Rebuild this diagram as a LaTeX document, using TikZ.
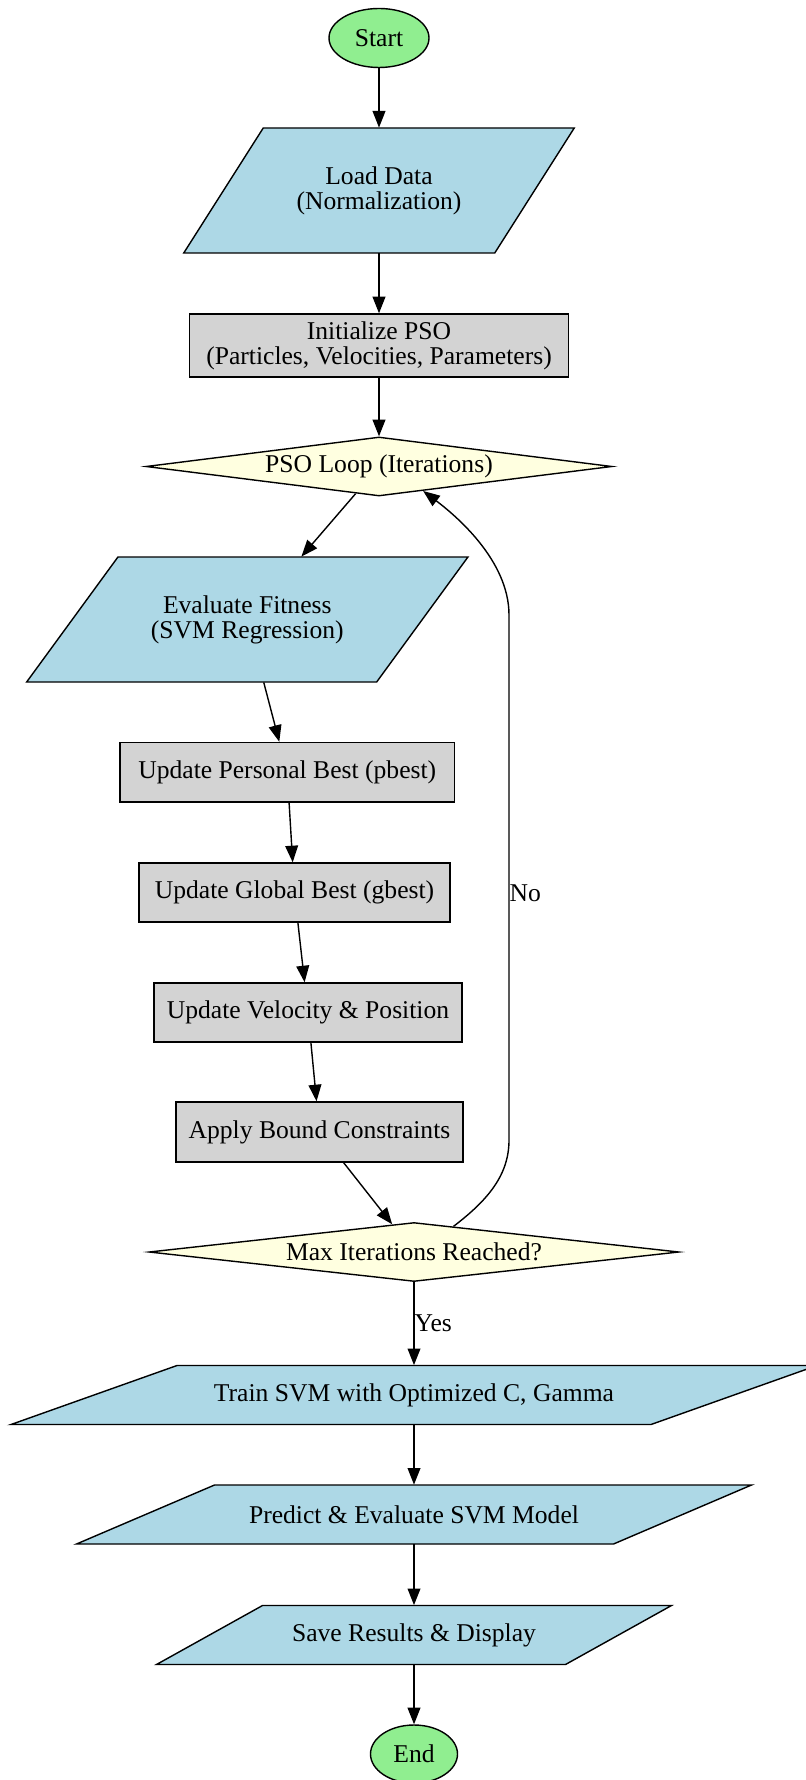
\documentclass[tikz,border=0pt]{standalone}
\usepackage{fontspec}
\setmainfont{Liberation Serif}
\usetikzlibrary{shapes.geometric,arrows.meta,calc}

\definecolor{termgreen}{HTML}{90EE90}
\definecolor{ioblue}{HTML}{ADD8E6}
\definecolor{procgray}{HTML}{D3D3D3}
\definecolor{decyellow}{HTML}{FFFFE0}

\tikzset{
  every node/.style={font=\fontsize{12.8}{12.5}\selectfont, inner sep=0pt, align=center},
  terminal/.style={ellipse, draw, fill=termgreen, line width=0.7pt},
  procbox/.style={rectangle, draw, fill=procgray, line width=0.7pt},
  decision/.style={diamond, draw, fill=decyellow, line width=0.7pt, aspect=8},
  iofill/.style={draw, fill=ioblue, line width=0.7pt},
  arr/.style={-{Triangle[length=8.3pt,width=6.4pt]}, line width=0.7pt},
  lbl/.style={anchor=west, inner sep=0pt},
}

% parallelogram: name, centre, width, height, slant, text (sizes in px)
\newcommand{\iobox}[6]{%
  \filldraw[iofill] ($(#2)+({-#3/2},{#4/2})$) -- ++({#3-#5},0) -- ++(#5,-#4)
    -- ++({-#3+#5},0) -- cycle;
  \node[minimum width=#3*0.5pt, minimum height=#4*0.5pt] (#1) at (#2) {#6};
}

\begin{document}
\begin{tikzpicture}[x=0.5pt,y=-0.5pt]
\useasboundingbox (0,0) rectangle (806,1780);
% nodes
\node[terminal, minimum width=50pt, minimum height=29.5pt] (start) at (379,38) {Start};
\iobox{load}{379,190.5}{390.5}{125}{79.5}{Load Data\\(Normalization)}
\node[procbox, minimum width=189.5pt, minimum height=31.5pt] (init) at (379,345.5) {Initialize PSO\\(Particles, Velocities, Parameters)};
\node[decision, minimum width=233pt, minimum height=29.5pt] (loop) at (379,466.5) {PSO Loop (Iterations)};
\iobox{eval}{247.3,619.5}{441.3}{125}{91.3}{Evaluate Fitness\\(SVM Regression)}
\node[procbox, minimum width=167.25pt, minimum height=29.75pt] (pbest) at (287.25,772.25) {Update Personal Best (pbest)};
\node[procbox, minimum width=155.5pt, minimum height=29.5pt] (gbest) at (294.5,892.5) {Update Global Best (gbest)};
\node[procbox, minimum width=154pt, minimum height=29.5pt] (vel) at (308,1012.5) {Update Velocity \& Position};
\node[procbox, minimum width=143.5pt, minimum height=30pt] (bound) at (319.5,1132) {Apply Bound Constraints};
\node[decision, minimum width=265pt, minimum height=29.5pt] (maxit) at (414,1252) {Max Iterations Reached?};
\iobox{train}{414,1395}{806}{59}{166}{Train SVM with Optimized C, Gamma}
\iobox{pred}{414,1514.5}{675}{59}{138}{Predict \& Evaluate SVM Model}
\iobox{save}{414,1635}{515}{59}{106}{Save Results \& Display}
\node[terminal, minimum width=43.5pt, minimum height=29pt] (end) at (414,1754) {End};

% main flow
\draw[arr] (start) -- (load);
\draw[arr] (load) -- (init);
\draw[arr] (init) -- (loop);
\draw[arr] (loop) -- (eval);
\draw[arr] (eval) -- (pbest);
\draw[arr] (pbest) -- (gbest);
\draw[arr] (gbest) -- (vel);
\draw[arr] (vel) -- (bound);
\draw[arr] (bound) -- (maxit);
\draw[arr] (maxit) -- node[lbl] {Yes} (train);
\draw[arr] (train) -- (pred);
\draw[arr] (pred) -- (save);
\draw[arr] (save) -- (end);
% loop back
\draw[arr] (maxit.33) .. controls (488,1200) and (509,1175) .. (509,1140)
  -- node[lbl,pos=0.47] {No} (509,615)
  .. controls (509,560) and (455,515) .. (loop.331);
\end{tikzpicture}
\end{document}
